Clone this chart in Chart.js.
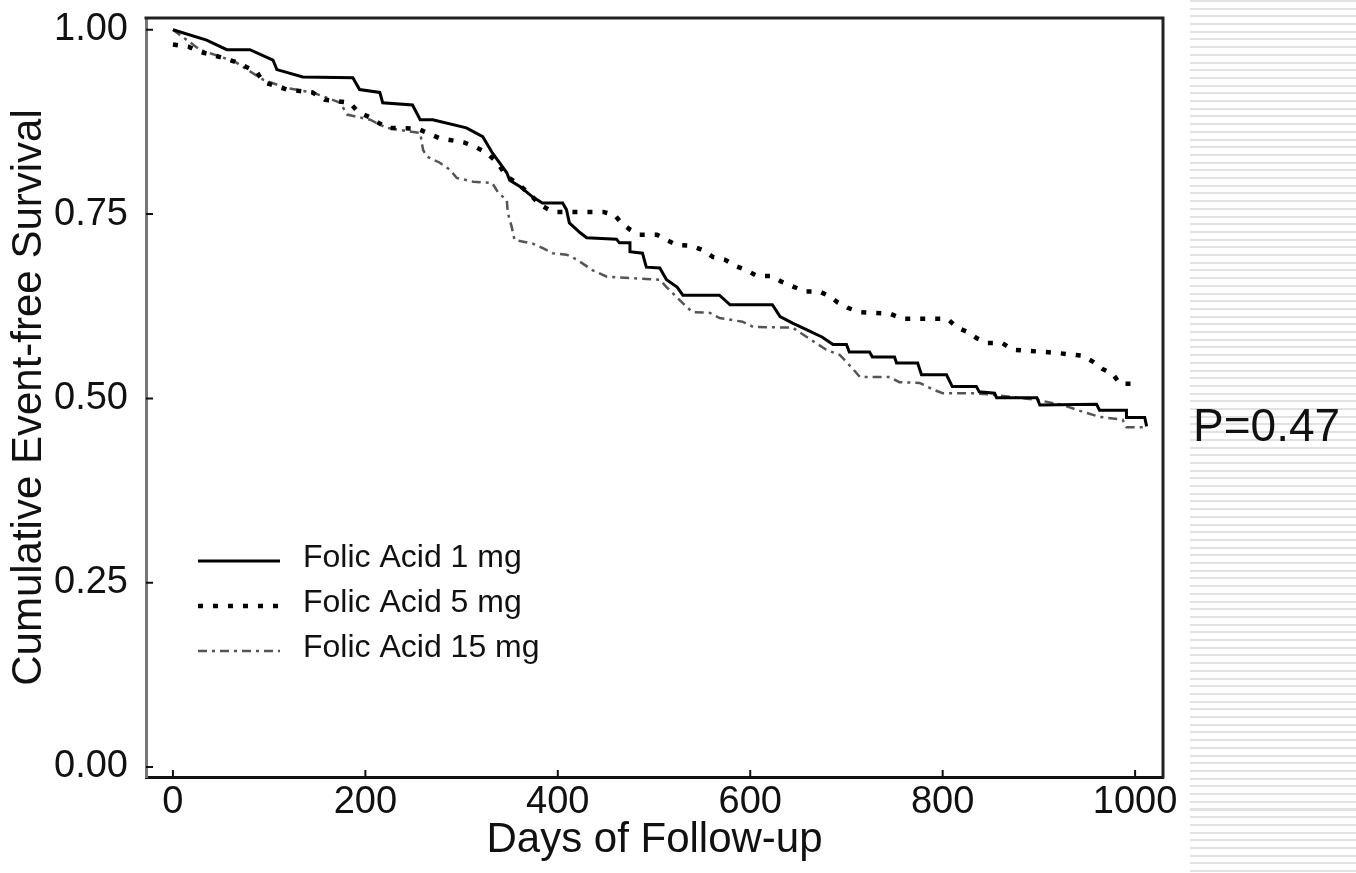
<!DOCTYPE html>
<html>
<head>
<meta charset="utf-8">
<script src="https://cdn.jsdelivr.net/npm/chart.js@4.4.0/dist/chart.umd.min.js"></script>
<style>
  html, body { margin: 0; padding: 0; background: #fff; }
  #wrap { position: relative; width: 1356px; height: 873px; overflow: hidden; }
  #stripes {
    position: absolute; left: 1190px; top: 0; width: 166px; height: 873px;
    background: repeating-linear-gradient(to bottom, #e2e2e2 0, #e2e2e2 2px, #fff 2px, #fff 7.7px);
  }
  #myChart { position: absolute; left: 0; top: 0; }
  #pval {
    position: absolute; left: 1193px; top: 402px;
    font: 46px/46px "Liberation Sans", Arial, sans-serif; color: #111;
  }
</style>
</head>
<body>
<div id="wrap">
  <div id="stripes"></div>
  <canvas id="myChart" width="1356" height="873"></canvas>
  <div id="pval">P=0.47</div>
</div>
<script>
const FONT = '"Liberation Sans", Arial, sans-serif';

const seriesLabels = ["Folic Acid 1 mg", "Folic Acid 5 mg", "Folic Acid 15 mg"];

// Folic Acid 1 mg
const days1 = [0, 35, 56, 80, 104, 108, 135, 187, 194, 215, 218, 249, 257, 270, 305, 322, 332, 347, 350, 361, 374, 384, 405, 409, 412, 423, 430, 461, 464, 475, 475, 488, 492, 506, 513, 524, 530, 568, 579, 623, 631, 644, 659, 675, 686, 700, 703, 724, 727, 750, 752, 774, 778, 804, 810, 835, 838, 854, 856, 898, 901, 960, 963, 991, 991, 1010, 1012];
const surv1 = [1.0, 0.986, 0.973, 0.973, 0.959, 0.946, 0.936, 0.935, 0.919, 0.915, 0.901, 0.898, 0.878, 0.878, 0.867, 0.855, 0.833, 0.806, 0.796, 0.787, 0.773, 0.765, 0.765, 0.756, 0.738, 0.725, 0.718, 0.716, 0.711, 0.711, 0.699, 0.697, 0.678, 0.677, 0.661, 0.651, 0.640, 0.640, 0.627, 0.627, 0.611, 0.602, 0.593, 0.583, 0.573, 0.573, 0.563, 0.563, 0.556, 0.556, 0.548, 0.548, 0.532, 0.532, 0.516, 0.516, 0.509, 0.507, 0.501, 0.501, 0.491, 0.492, 0.484, 0.484, 0.474, 0.474, 0.462];

// Folic Acid 5 mg
const days5 = [0, 16, 28, 41, 64, 87, 94, 118, 145, 158, 184, 192, 205, 222, 254, 277, 303, 316, 326, 337, 347, 358, 374, 381, 395, 447, 459, 466, 475, 485, 503, 513, 524, 539, 551, 561, 574, 584, 596, 607, 622, 633, 644, 657, 672, 683, 691, 701, 714, 745, 758, 805, 815, 826, 835, 846, 862, 873, 916, 945, 956, 966, 977, 984, 999];
const surv5 = [0.98, 0.977, 0.970, 0.966, 0.957, 0.943, 0.929, 0.919, 0.915, 0.905, 0.901, 0.889, 0.881, 0.867, 0.866, 0.853, 0.847, 0.840, 0.833, 0.820, 0.801, 0.792, 0.773, 0.763, 0.753, 0.753, 0.749, 0.738, 0.729, 0.722, 0.722, 0.715, 0.708, 0.707, 0.701, 0.692, 0.688, 0.680, 0.674, 0.666, 0.666, 0.658, 0.652, 0.645, 0.645, 0.638, 0.630, 0.623, 0.617, 0.615, 0.608, 0.608, 0.596, 0.590, 0.582, 0.575, 0.575, 0.566, 0.562, 0.558, 0.550, 0.540, 0.533, 0.520, 0.520];

// Folic Acid 15 mg
const days15 = [0, 28, 64, 94, 118, 145, 174, 181, 205, 222, 257, 260, 264, 277, 288, 295, 312, 332, 338, 347, 348, 352, 355, 374, 384, 395, 409, 420, 436, 451, 492, 506, 513, 534, 540, 558, 568, 592, 603, 644, 679, 693, 706, 714, 745, 755, 776, 790, 800, 831, 852, 898, 925, 945, 963, 987, 991, 1008];
const surv15 = [1.0, 0.973, 0.957, 0.932, 0.921, 0.915, 0.901, 0.885, 0.878, 0.867, 0.860, 0.837, 0.828, 0.820, 0.810, 0.799, 0.794, 0.792, 0.779, 0.769, 0.752, 0.733, 0.715, 0.710, 0.704, 0.697, 0.695, 0.688, 0.674, 0.665, 0.662, 0.661, 0.651, 0.624, 0.617, 0.616, 0.609, 0.604, 0.597, 0.596, 0.566, 0.559, 0.541, 0.529, 0.529, 0.522, 0.521, 0.512, 0.507, 0.507, 0.505, 0.498, 0.491, 0.482, 0.475, 0.471, 0.461, 0.461];

const xTickStep = 200;
const yTickStep = 0.25;

const toPoints = (xs, ys) => xs.map((d, i) => ({ x: d, y: ys[i] }));

// frame (top/right), inward ticks and the in-plot legend
const framePlugin = {
  id: "frame",
  afterDraw(chart) {
    const { ctx, chartArea: a, scales } = chart;
    const x = scales.x, y = scales.y;
    ctx.save();
    ctx.strokeStyle = "#222";
    ctx.lineWidth = 3;
    ctx.beginPath();
    ctx.moveTo(a.left - 1.5, a.top);
    ctx.lineTo(a.right, a.top);
    ctx.lineTo(a.right, a.bottom + 1.5);
    ctx.stroke();

    ctx.lineWidth = 2;
    ctx.strokeStyle = "#111";
    ctx.beginPath();
    y.ticks.forEach(t => {
      const py = y.getPixelForValue(t.value);
      ctx.moveTo(a.left, py);
      ctx.lineTo(a.left + 7, py);
    });
    x.ticks.forEach(t => {
      const px = x.getPixelForValue(t.value);
      ctx.moveTo(px, a.bottom);
      ctx.lineTo(px, a.bottom - 7);
    });
    ctx.stroke();

    // legend
    chart.data.datasets.forEach((ds, i) => {
      const ly = 558 + i * 45;
      ctx.beginPath();
      ctx.strokeStyle = ds.borderColor;
      ctx.lineWidth = ds.borderWidth;
      ctx.setLineDash(ds.borderDash || []);
      ctx.moveTo(198, ly + 3);
      ctx.lineTo(280, ly + 3);
      ctx.stroke();
      ctx.setLineDash([]);
      ctx.fillStyle = "#111";
      ctx.font = "32px " + FONT;
      ctx.textBaseline = "middle";
      ctx.textAlign = "left";
      ctx.fillText(ds.label, 303, ly);
    });
    ctx.restore();
  }
};

let ctx = document.getElementById("myChart");
let myChart = new Chart(ctx, {
  type: "line",
  data: {
    datasets: [
      {
        label: seriesLabels[0],
        data: toPoints(days1, surv1),
        borderColor: "#000",
        borderWidth: 3,
      },
      {
        label: seriesLabels[1],
        data: toPoints(days5, surv5),
        borderColor: "#000",
        borderWidth: 4.5,
        borderDash: [5, 10],
      },
      {
        label: seriesLabels[2],
        data: toPoints(days15, surv15),
        borderColor: "#555",
        borderWidth: 2.5,
        borderDash: [9, 5, 3, 5],
      },
    ],
  },
  options: {
    responsive: false,
    animation: false,
    layout: { padding: { top: 18, right: 193, bottom: 0, left: 0 } },
    elements: {
      point: { radius: 0 },
      line: { tension: 0, fill: false, borderCapStyle: "butt" },
    },
    plugins: {
      legend: { display: false },
      tooltip: { enabled: false },
    },
    scales: {
      x: {
        type: "linear",
        min: -28,
        max: 1029,
        grid: { display: false },
        border: { display: true, color: "#111", width: 3 },
        ticks: {
          stepSize: xTickStep,
          includeBounds: false,
          padding: -5,
          maxRotation: 0,
          autoSkip: false,
          color: "#111",
          font: { family: FONT, size: 38 },
          callback: v => String(v),
        },
        title: {
          display: true,
          text: "Days of Follow-up",
          color: "#111",
          font: { family: FONT, size: 42 },
          padding: { top: 7, bottom: 7 },
        },
        afterFit(s) {
          s.height = 96;
          s.paddingLeft = 0;
          s.paddingRight = 0;
        },
      },
      y: {
        type: "linear",
        min: -0.0136,
        max: 1.016,
        grid: { display: false },
        border: { display: true, color: "#777", width: 3 },
        ticks: {
          stepSize: yTickStep,
          includeBounds: false,
          padding: 10,
          color: "#111",
          font: { family: FONT, size: 38 },
          callback: v => v.toFixed(2),
        },
        title: {
          display: true,
          text: "Cumulative Event-free Survival",
          color: "#111",
          font: { family: FONT, size: 42 },
          padding: { top: 4, bottom: 4 },
        },
        afterFit(s) {
          s.width = 146;
          s.paddingTop = 0;
          s.paddingBottom = 0;
        },
      },
    },
  },
  plugins: [framePlugin],
});
</script>
</body>
</html>
